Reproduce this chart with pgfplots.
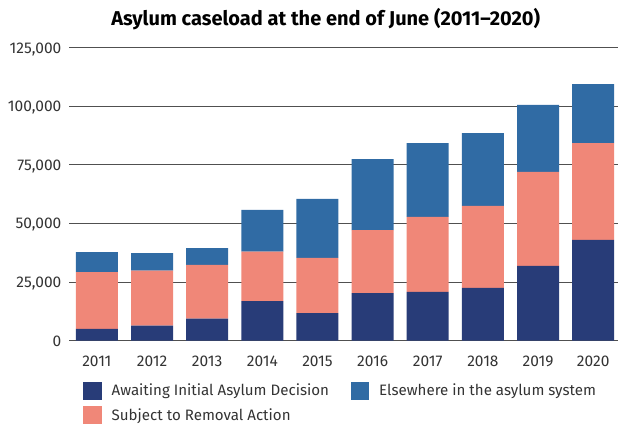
\documentclass[border=0pt]{standalone}
\usepackage{fontspec}
\setmainfont{Fira Sans}
\usepackage{pgfplots}
\pgfplotsset{compat=1.18}
\definecolor{cNavy}{HTML}{283C78}
\definecolor{cSalmon}{HTML}{F08778}
\definecolor{cBlue}{HTML}{306BA4}
\definecolor{cGrid}{HTML}{505050}
\definecolor{cText}{HTML}{333333}
\begin{document}
\begin{tikzpicture}[x=1pt,y=1pt]
\path[use as bounding box] (0,0) rectangle (618,424);
\node[font=\bfseries\fontsize{20}{24}\selectfont, text=black, anchor=base, inner sep=0pt] at (325.7,398) {Asylum caseload at the end of June (2011--2020)};
\begin{axis}[
  at={(69.3pt,83.3pt)}, anchor=south west,
  scale only axis, width=548.7pt, height=293pt,
  ybar stacked, bar width=42pt,
  xmin=-0.5, xmax=9.45, ymin=0, ymax=125000,
  xtick={0,...,9},
  xticklabels={2011,2012,2013,2014,2015,2016,2017,2018,2019,2020},
  ytick={0,25000,50000,75000,100000,125000},
  scaled y ticks=false,
  y tick label style={/pgf/number format/fixed, /pgf/number format/1000 sep={,}, anchor=base east, inner sep=0pt, xshift=-7.8pt, yshift=-5.3pt},
  x tick label style={anchor=base, inner sep=0pt, yshift=-25.3pt},
  /pgf/number format/assume math mode=true,
  tick label style={font=\fontsize{15.5}{18}\selectfont, text=cText},
  major tick length=0pt,
  axis line style={draw=none},
  axis x line*=bottom,
  ymajorgrids, grid style={cGrid, line width=1.1pt},
  clip=false,
  legend columns=2, transpose legend,
  legend style={at={(0,0)}, anchor=north west, xshift=14pt, yshift=-40.8pt,
    inner sep=0pt, outer sep=0pt, draw=none, fill=none,
    font=\fontsize{15.1}{18}\selectfont, text=cText,
    nodes={inner sep=0pt},
    /tikz/every even column/.append style={column sep=21.7pt},
    row sep=6.6pt},
  legend cell align=left,
  legend image code/.code={\fill[#1] (0pt,-9pt) rectangle (18.7pt,9pt); \path (28.4pt,0pt);},
]
\addplot[fill=cNavy, draw=none] coordinates {(0,5000)(1,6400)(2,9400)(3,16900)(4,11800)(5,20300)(6,20800)(7,22500)(8,31900)(9,43000)};
\addplot[fill=cSalmon, draw=none] coordinates {(0,24300)(1,23500)(2,22900)(3,21100)(4,23500)(5,26900)(6,32000)(7,35000)(8,40100)(9,41300)};
\addplot[fill=cBlue, draw=none] coordinates {(0,8500)(1,7500)(2,7200)(3,17800)(4,25200)(5,30300)(6,31500)(7,31100)(8,28600)(9,25200)};
\legend{Awaiting Initial Asylum Decision, Subject to Removal Action, Elsewhere in the asylum system}
\end{axis}
\end{tikzpicture}
\end{document}
